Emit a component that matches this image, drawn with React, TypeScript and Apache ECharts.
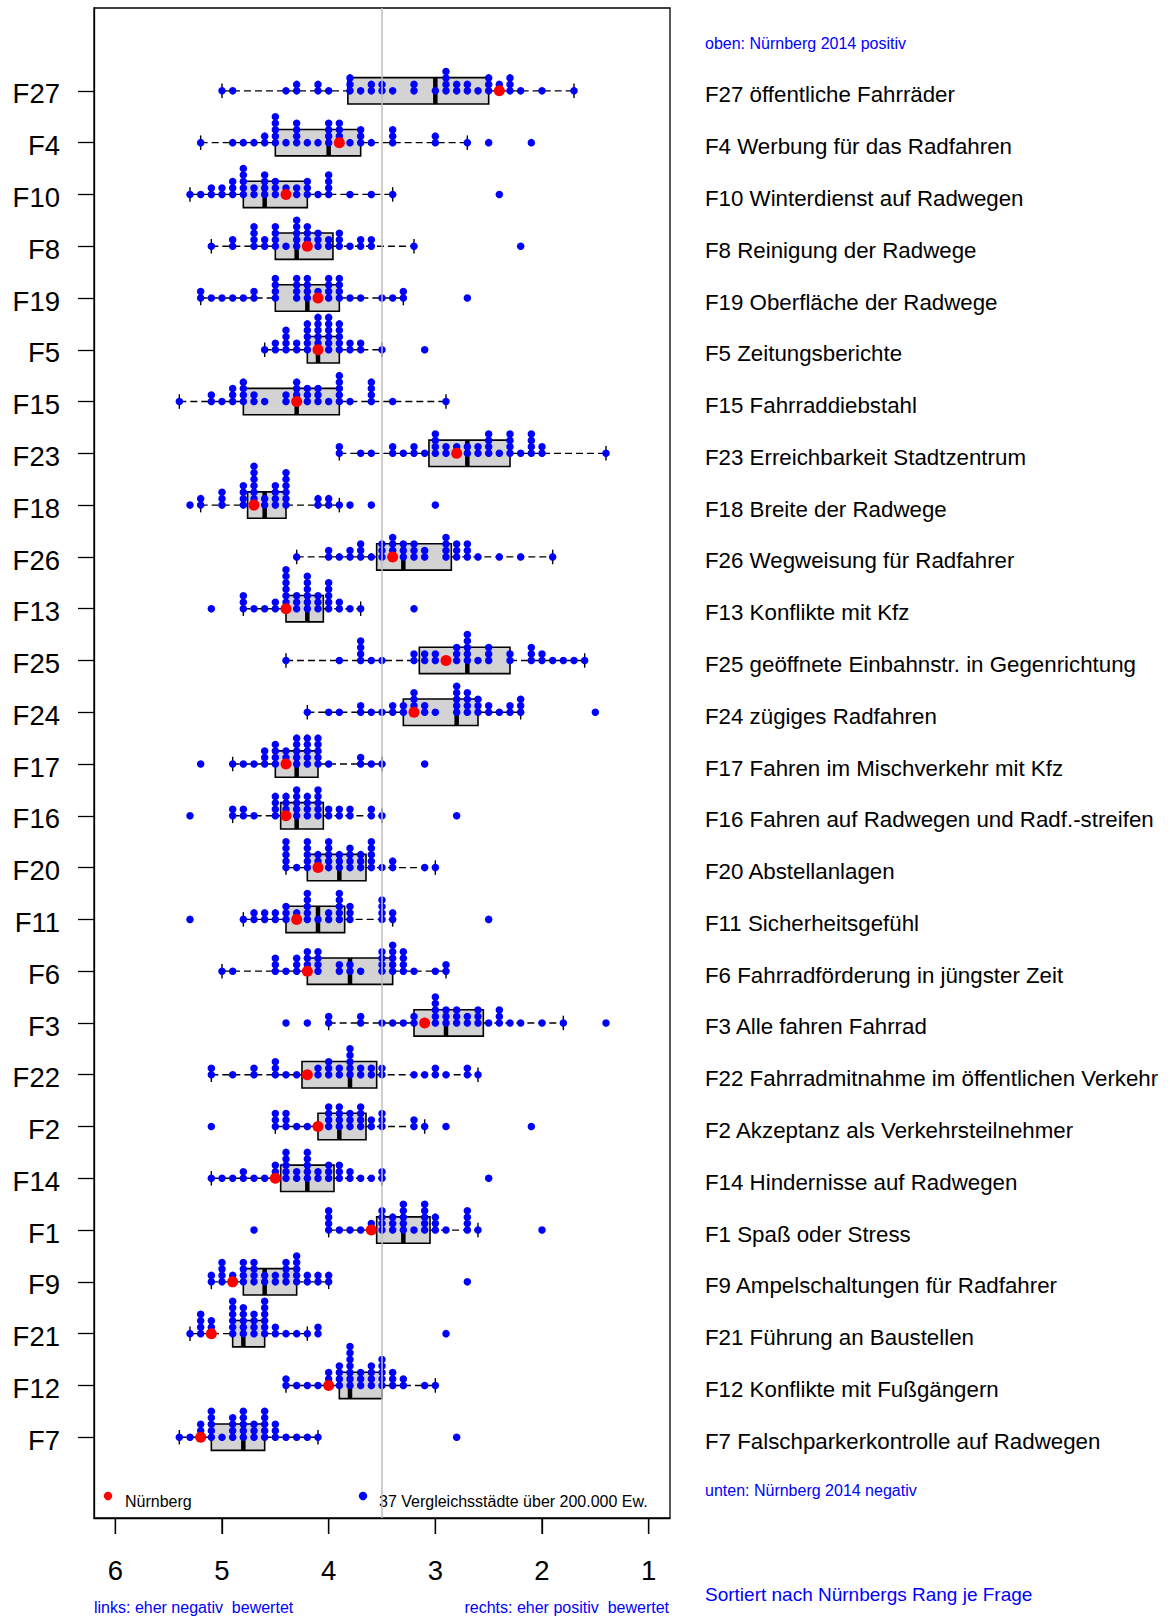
import React, { useEffect, useRef } from "react";
import * as echarts from "echarts";

// Questions, top to bottom (sorted by Nürnberg's rank)
const questions = ["F27","F4","F10","F8","F19","F5","F15","F23","F18","F26","F13","F25","F24","F17","F16","F20","F11","F6","F3","F22","F2","F14","F1","F9","F21","F12","F7"];
const questionTexts = [
  "F27 öffentliche Fahrräder",
  "F4 Werbung für das Radfahren",
  "F10 Winterdienst auf Radwegen",
  "F8 Reinigung der Radwege",
  "F19 Oberfläche der Radwege",
  "F5 Zeitungsberichte",
  "F15 Fahrraddiebstahl",
  "F23 Erreichbarkeit Stadtzentrum",
  "F18 Breite der Radwege",
  "F26 Wegweisung für Radfahrer",
  "F13 Konflikte mit Kfz",
  "F25 geöffnete Einbahnstr. in Gegenrichtung",
  "F24 zügiges Radfahren",
  "F17 Fahren im Mischverkehr mit Kfz",
  "F16 Fahren auf Radwegen und Radf.-streifen",
  "F20 Abstellanlagen",
  "F11 Sicherheitsgefühl",
  "F6 Fahrradförderung in jüngster Zeit",
  "F3 Alle fahren Fahrrad",
  "F22 Fahrradmitnahme im öffentlichen Verkehr",
  "F2 Akzeptanz als Verkehrsteilnehmer",
  "F14 Hindernisse auf Radwegen",
  "F1 Spaß oder Stress",
  "F9 Ampelschaltungen für Radfahrer",
  "F21 Führung an Baustellen",
  "F12 Konflikte mit Fußgängern",
  "F7 Falschparkerkontrolle auf Radwegen",
];

// Nürnberg 2014 grade per question
const nuernberg = [2.4,3.9,4.4,4.2,4.1,4.1,4.3,2.8,4.7,3.4,4.4,2.9,3.2,4.4,4.4,4.1,4.3,4.2,3.1,4.2,4.1,4.5,3.6,4.9,5.1,4.0,5.2];

// Box statistics: [upper whisker, upper hinge, median, lower hinge, lower whisker]
const boxStats = [
  [5.0,3.82,3.0,2.5,1.7],
  [5.2,4.5,4.0,3.7,2.7],
  [5.3,4.8,4.6,4.2,3.4],
  [5.1,4.5,4.3,3.96,3.2],
  [5.2,4.5,4.2,3.9,3.3],
  [4.6,4.2,4.1,3.9,3.5],
  [5.4,4.8,4.3,3.9,2.9],
  [3.9,3.06,2.7,2.3,1.4],
  [5.2,4.76,4.6,4.4,3.9],
  [4.3,3.55,3.3,2.85,1.9],
  [4.8,4.4,4.2,4.05,3.7],
  [4.4,3.15,2.7,2.3,1.6],
  [4.2,3.3,2.8,2.6,2.2],
  [4.9,4.5,4.3,4.1,3.5],
  [4.9,4.45,4.3,4.05,3.5],
  [4.4,4.2,3.9,3.65,3.0],
  [4.8,4.4,4.1,3.85,3.4],
  [5.0,4.2,3.8,3.4,2.9],
  [4.0,3.2,2.9,2.55,1.8],
  [5.1,4.25,3.8,3.55,2.6],
  [4.5,4.1,3.9,3.65,3.1],
  [5.1,4.45,4.2,3.95,3.5],
  [4.0,3.55,3.3,3.05,2.6],
  [5.1,4.8,4.6,4.3,4.0],
  [5.3,4.9,4.8,4.6,4.2],
  [4.4,3.9,3.8,3.5,3.0],
  [5.4,5.1,4.8,4.6,4.1],
];

// Grades of the 37 comparison cities per question
const vF27 = [5.0,4.9,4.4,4.3,4.3,4.1,4.1,4.0,3.8,3.8,3.8,3.7,3.6,3.6,3.5,3.5,3.4,3.2,3.2,3.0,2.9,2.9,2.9,2.9,2.8,2.8,2.7,2.7,2.6,2.5,2.5,2.5,2.4,2.4,2.3,2.3,2.3,2.2,2.0,1.7];
const vF4 = [5.2,4.9,4.8,4.7,4.6,4.6,4.5,4.5,4.5,4.5,4.5,4.4,4.3,4.3,4.3,4.3,4.2,4.1,4.0,4.0,4.0,4.0,3.9,3.9,3.9,3.9,3.8,3.7,3.7,3.7,3.6,3.4,3.4,3.4,3.0,3.0,2.7,2.5,2.1];
const vF10 = [5.3,5.2,5.1,5.1,5.0,5.0,4.9,4.9,4.9,4.8,4.8,4.8,4.8,4.8,4.7,4.7,4.6,4.6,4.6,4.6,4.5,4.5,4.5,4.4,4.4,4.3,4.3,4.2,4.2,4.2,4.1,4.0,4.0,4.0,4.0,3.8,3.6,3.4,2.4];
const vF8 = [5.1,4.9,4.9,4.7,4.7,4.7,4.7,4.6,4.6,4.5,4.5,4.5,4.5,4.4,4.3,4.3,4.3,4.3,4.3,4.2,4.2,4.2,4.2,4.1,4.1,4.1,4.0,4.0,3.9,3.9,3.9,3.8,3.7,3.7,3.6,3.6,3.2,2.2];
const vF19 = [5.2,5.2,5.1,5.0,4.9,4.8,4.7,4.7,4.5,4.5,4.5,4.5,4.3,4.3,4.3,4.3,4.2,4.2,4.2,4.2,4.1,4.1,4.0,4.0,4.0,4.0,3.9,3.9,3.9,3.9,3.8,3.7,3.5,3.4,3.3,3.3,2.7];
const vF5 = [4.6,4.5,4.5,4.4,4.4,4.4,4.4,4.3,4.3,4.2,4.2,4.2,4.2,4.2,4.1,4.1,4.1,4.1,4.1,4.1,4.0,4.0,4.0,4.0,4.0,4.0,3.9,3.9,3.9,3.9,3.9,3.8,3.8,3.7,3.7,3.5,3.1];
const vF15 = [5.4,5.1,5.1,5.0,4.9,4.9,4.9,4.8,4.8,4.8,4.8,4.7,4.7,4.6,4.4,4.4,4.3,4.3,4.3,4.3,4.2,4.2,4.2,4.1,4.1,4.1,4.0,3.9,3.9,3.9,3.9,3.9,3.8,3.6,3.6,3.6,3.6,3.4,2.9];
const vF23 = [3.9,3.9,3.7,3.6,3.4,3.4,3.3,3.2,3.2,3.1,3.0,3.0,3.0,3.0,2.9,2.9,2.8,2.8,2.7,2.7,2.6,2.6,2.5,2.5,2.5,2.5,2.4,2.3,2.3,2.3,2.3,2.2,2.1,2.1,2.1,2.1,2.0,2.0,1.4];
const vF18 = [5.3,5.2,5.2,5.0,5.0,5.0,4.8,4.8,4.8,4.8,4.7,4.7,4.7,4.7,4.7,4.7,4.7,4.6,4.6,4.5,4.5,4.5,4.5,4.4,4.4,4.4,4.4,4.4,4.4,4.1,4.1,4.0,4.0,3.9,3.8,3.6,3.0];
const vF26 = [4.3,4.0,4.0,3.9,3.8,3.8,3.7,3.7,3.7,3.6,3.5,3.5,3.5,3.4,3.4,3.4,3.4,3.3,3.3,3.3,3.2,3.2,3.2,3.1,3.1,2.9,2.9,2.9,2.9,2.8,2.8,2.8,2.7,2.7,2.7,2.6,2.4,2.2,1.9];
const vF13 = [5.1,4.8,4.8,4.8,4.7,4.6,4.5,4.5,4.4,4.4,4.4,4.4,4.4,4.4,4.4,4.3,4.3,4.3,4.2,4.2,4.2,4.2,4.2,4.2,4.1,4.1,4.1,4.0,4.0,4.0,4.0,4.0,3.9,3.9,3.8,3.7,3.2];
const vF25 = [4.4,3.9,3.7,3.7,3.7,3.7,3.6,3.5,3.2,3.2,3.1,3.1,3.0,3.0,2.9,2.8,2.8,2.8,2.7,2.7,2.7,2.7,2.7,2.6,2.5,2.5,2.5,2.3,2.3,2.1,2.1,2.1,2.0,2.0,1.9,1.8,1.7,1.6];
const vF24 = [4.2,4.0,3.9,3.7,3.7,3.6,3.5,3.4,3.4,3.3,3.3,3.2,3.2,3.2,3.2,3.1,3.1,3.0,2.8,2.8,2.8,2.8,2.8,2.7,2.7,2.7,2.7,2.6,2.6,2.6,2.5,2.5,2.4,2.3,2.3,2.2,2.2,2.2,1.5];
const vF17 = [5.2,4.9,4.8,4.7,4.6,4.6,4.6,4.5,4.5,4.5,4.5,4.4,4.4,4.4,4.3,4.3,4.3,4.3,4.3,4.2,4.2,4.2,4.2,4.2,4.1,4.1,4.1,4.1,4.1,4.0,3.7,3.7,3.6,3.5,3.1];
const vF16 = [5.3,4.9,4.9,4.8,4.8,4.7,4.5,4.5,4.5,4.5,4.4,4.4,4.4,4.4,4.3,4.3,4.3,4.3,4.3,4.2,4.2,4.2,4.2,4.1,4.1,4.1,4.1,4.1,4.0,4.0,3.9,3.9,3.8,3.8,3.6,3.6,3.5,2.8];
const vF20 = [4.4,4.4,4.4,4.4,4.4,4.3,4.2,4.2,4.2,4.2,4.2,4.1,4.1,4.1,4.0,4.0,4.0,4.0,4.0,3.9,3.9,3.9,3.8,3.8,3.8,3.8,3.7,3.7,3.7,3.6,3.6,3.6,3.6,3.6,3.5,3.4,3.4,3.1,3.0];
const vF11 = [5.3,4.8,4.7,4.7,4.6,4.6,4.5,4.5,4.4,4.4,4.4,4.3,4.3,4.2,4.2,4.2,4.2,4.2,4.1,4.0,4.0,3.9,3.9,3.9,3.9,3.9,3.8,3.8,3.8,3.5,3.5,3.5,3.5,3.4,3.4,2.5];
const vF6 = [5.0,4.9,4.5,4.5,4.5,4.4,4.3,4.3,4.3,4.2,4.2,4.2,4.2,4.1,4.1,4.1,4.1,3.9,3.9,3.8,3.8,3.7,3.5,3.5,3.5,3.5,3.4,3.4,3.4,3.4,3.4,3.3,3.3,3.3,3.3,3.2,3.0,2.9,2.9];
const vF3 = [4.4,4.2,4.0,4.0,3.7,3.7,3.5,3.4,3.3,3.2,3.2,3.1,3.0,3.0,3.0,3.0,3.0,2.9,2.9,2.9,2.8,2.8,2.8,2.7,2.7,2.6,2.6,2.6,2.5,2.4,2.4,2.4,2.3,2.2,2.0,1.8,1.4];
const vF22 = [5.1,5.1,4.9,4.7,4.7,4.5,4.5,4.5,4.4,4.3,4.2,4.1,4.1,4.0,4.0,4.0,3.9,3.9,3.8,3.8,3.8,3.8,3.8,3.7,3.7,3.6,3.6,3.5,3.5,3.2,3.1,3.0,3.0,2.9,2.7,2.7,2.6];
const vF2 = [5.1,4.5,4.5,4.5,4.4,4.4,4.4,4.3,4.2,4.1,4.0,4.0,4.0,4.0,3.9,3.9,3.9,3.9,3.8,3.8,3.8,3.7,3.7,3.7,3.7,3.6,3.6,3.5,3.5,3.5,3.2,3.2,3.1,2.9,2.1];
const vF14 = [5.1,5.0,4.9,4.8,4.8,4.7,4.6,4.5,4.5,4.5,4.4,4.4,4.4,4.4,4.4,4.3,4.3,4.2,4.2,4.2,4.2,4.2,4.1,4.1,4.0,4.0,4.0,3.9,3.9,3.9,3.8,3.8,3.7,3.6,3.5,3.5,2.5];
const vF1 = [4.7,4.0,4.0,4.0,4.0,3.9,3.8,3.7,3.6,3.6,3.5,3.5,3.5,3.5,3.4,3.4,3.4,3.3,3.3,3.3,3.3,3.3,3.2,3.1,3.1,3.1,3.1,3.1,3.0,3.0,3.0,2.9,2.7,2.7,2.7,2.7,2.6,2.0];
const vF9 = [5.1,5.1,5.0,5.0,5.0,5.0,4.9,4.9,4.8,4.8,4.8,4.8,4.7,4.7,4.7,4.7,4.6,4.6,4.5,4.5,4.4,4.4,4.4,4.4,4.3,4.3,4.3,4.3,4.3,4.2,4.2,4.1,4.1,4.0,4.0,2.7];
const vF21 = [5.3,5.2,5.2,5.2,5.2,5.1,5.1,5.1,4.9,4.9,4.9,4.9,4.9,4.9,4.8,4.8,4.8,4.8,4.8,4.7,4.7,4.7,4.7,4.6,4.6,4.6,4.6,4.6,4.6,4.5,4.5,4.4,4.3,4.2,4.1,4.1,2.9];
const vF12 = [4.4,4.4,4.3,4.2,4.1,4.0,4.0,4.0,3.9,3.9,3.9,3.9,3.8,3.8,3.8,3.8,3.8,3.8,3.8,3.7,3.7,3.7,3.6,3.6,3.6,3.6,3.5,3.5,3.5,3.5,3.5,3.4,3.4,3.4,3.3,3.3,3.1,3.0];
const vF7 = [5.4,5.3,5.2,5.2,5.2,5.1,5.1,5.1,5.1,5.1,5.0,4.9,4.9,4.9,4.9,4.8,4.8,4.8,4.8,4.8,4.7,4.7,4.7,4.6,4.6,4.6,4.6,4.6,4.5,4.5,4.5,4.4,4.3,4.2,4.1,2.8];

const cityValues = [vF27,vF4,vF10,vF8,vF19,vF5,vF15,vF23,vF18,vF26,vF13,vF25,vF24,vF17,vF16,vF20,vF11,vF6,vF3,vF22,vF2,vF14,vF1,vF9,vF21,vF12,vF7];

const xTicks = [1, 2, 3, 4, 5, 6];
const refValue = 3.5;

const FONT = "Liberation Sans, Arial, Helvetica, sans-serif";
const BLUE = "#0000FF";
const RED = "#FF0000";
const STACK = 0.125; // vertical offset between stacked equal values (row units)
const LEFT_LABEL_SHIFT = 0.06; // R draws the row names slightly below the tick
const RIGHT_LABEL_SHIFT = 0.078;
const ROW_OFFSET = 0.56; // space below the last row (legend area)
const Y_MIN = 0;
const Y_MAX = 29.16;
const GRID = { left: 94, top: 8, width: 576, height: 1510 };

export default function App() {
  const ref = useRef<HTMLDivElement>(null);

  useEffect(() => {
    if (!ref.current) return;
    const chart = echarts.init(ref.current, null, { renderer: "svg" });
    const n = questions.length;
    const rowPos = (i: number) => n - i + ROW_OFFSET;
    const rowIndex = (v: number) => n - Math.round(v - ROW_OFFSET);

    const blueData: number[][] = [];
    cityValues.forEach((vals, i) => {
      const counts: Record<string, number> = {};
      vals.forEach((v) => {
        const key = v.toFixed(2);
        const k = counts[key] || 0;
        counts[key] = k + 1;
        blueData.push([v, rowPos(i) + k * STACK]);
      });
    });
    const redData = nuernberg.map((v, i) => [v, rowPos(i)]);
    const boxData = boxStats.map((b, i) => [rowPos(i), ...b]);
    const rowTicks = questions.map((_, i) => rowPos(i));
    const leftLabelPos = rowTicks.map((p) => p - LEFT_LABEL_SHIFT);
    const rightLabelPos = rowTicks.map((p) => p - RIGHT_LABEL_SHIFT);

    const textStyle = (text: string, size: number, fill: string, align = "left") => ({
      text, fontSize: size, fill, fontFamily: FONT, verticalAlign: "middle", align,
    });
    const staticGraphics: any[] = [
      { id: "legRed", type: "circle", shape: { cx: 108, cy: 1496, r: 4.2 }, style: { fill: RED } },
      { id: "legRedT", type: "text", x: 125, y: 1501, style: textStyle("Nürnberg", 16, "#000") },
      { id: "legBlue", type: "circle", shape: { cx: 363, cy: 1496, r: 4.2 }, style: { fill: BLUE } },
      { id: "legBlueT", type: "text", x: 379, y: 1501, style: textStyle("37 Vergleichsstädte über 200.000 Ew.", 16, "#000") },
      { id: "oben", type: "text", x: 705, y: 43, style: textStyle("oben: Nürnberg 2014 positiv", 16, BLUE) },
      { id: "unten", type: "text", x: 705, y: 1490, style: textStyle("unten: Nürnberg 2014 negativ", 16, BLUE) },
      { id: "sort", type: "text", x: 705, y: 1594, style: textStyle("Sortiert nach Nürnbergs Rang je Frage", 19, BLUE) },
      { id: "links", type: "text", x: 94, y: 1607, style: textStyle("links: eher negativ  bewertet", 16, BLUE) },
      { id: "rechts", type: "text", x: 669, y: 1607, style: textStyle("rechts: eher positiv  bewertet", 16, BLUE, "right") },
    ];

    const option: any = {
      animation: false,
      textStyle: { fontFamily: FONT },
      grid: {
        ...GRID,
        show: true,
        borderColor: "#000",
        borderWidth: 1.3,
        backgroundColor: "transparent",
      },
      xAxis: {
        type: "value",
        min: 0.8,
        max: 6.2,
        inverse: true,
        position: "bottom",
        splitLine: { show: false },
        axisLine: { show: true, lineStyle: { color: "#000", width: 1.3 } },
        axisTick: { show: true, inside: false, customValues: xTicks, length: 16, lineStyle: { color: "#000", width: 1.3 } },
        axisLabel: {
          customValues: xTicks,
          fontSize: 27.5,
          color: "#000",
          margin: 38,
          fontFamily: FONT,
        },
      },
      yAxis: [
        {
          type: "value",
          min: Y_MIN,
          max: Y_MAX,
          splitLine: { show: false },
          axisLine: { show: true, onZero: false, lineStyle: { color: "#000", width: 1.3 } },
          axisTick: { show: true, customValues: rowTicks, length: 16, lineStyle: { color: "#000", width: 1.3 } },
          axisLabel: {
            customValues: leftLabelPos,
            fontSize: 27.5,
            color: "#000",
            margin: 34,
            fontFamily: FONT,
            formatter: (v: number) => questions[rowIndex(v)] || "",
          },
        },
        {
          type: "value",
          position: "right",
          min: Y_MIN,
          max: Y_MAX,
          splitLine: { show: false },
          axisLine: { show: false, onZero: false },
          axisTick: { show: false },
          axisLabel: {
            customValues: rightLabelPos,
            fontSize: 22.3,
            color: "#000",
            margin: 35,
            fontFamily: FONT,
            formatter: (v: number) => questionTexts[rowIndex(v)] || "",
          },
        },
      ],
      series: [
        {
          type: "custom",
          z: 2,
          silent: true,
          encode: { x: [1, 2, 3, 4, 5], y: 0 },
          data: boxData,
          renderItem: (params: any, api: any) => {
            const y = api.value(0);
            const pWH = api.coord([api.value(1), y]);
            const pQH = api.coord([api.value(2), y]);
            const pMD = api.coord([api.value(3), y]);
            const pQL = api.coord([api.value(4), y]);
            const pWL = api.coord([api.value(5), y]);
            const half = api.size([0, 0.255])[1];
            const st = api.size([0, 0.14])[1];
            const yc = pMD[1];
            const dash = { stroke: "#000", lineWidth: 1.4, lineDash: [7, 4] };
            const solid = { stroke: "#000", lineWidth: 1.4 };
            return {
              type: "group",
              children: [
                { type: "line", shape: { x1: pWH[0], y1: yc, x2: pQH[0], y2: yc }, style: dash },
                { type: "line", shape: { x1: pQL[0], y1: yc, x2: pWL[0], y2: yc }, style: dash },
                { type: "line", shape: { x1: pWH[0], y1: yc - st, x2: pWH[0], y2: yc + st }, style: solid },
                { type: "line", shape: { x1: pWL[0], y1: yc - st, x2: pWL[0], y2: yc + st }, style: solid },
                {
                  type: "rect",
                  shape: { x: pQH[0], y: yc - half, width: pQL[0] - pQH[0], height: 2 * half },
                  style: { fill: "#D3D3D3", stroke: "#000", lineWidth: 1.6 },
                },
                { type: "line", shape: { x1: pMD[0], y1: yc - half, x2: pMD[0], y2: yc + half }, style: { stroke: "#000", lineWidth: 4.5 } },
              ],
            };
          },
        },
        {
          type: "scatter",
          z: 3,
          silent: true,
          symbol: "circle",
          symbolSize: 7.5,
          itemStyle: { color: BLUE, opacity: 1 },
          data: blueData,
        },
        {
          type: "scatter",
          z: 4,
          silent: true,
          symbol: "circle",
          symbolSize: 11,
          itemStyle: { color: RED, opacity: 1 },
          data: redData,
          markLine: {
            silent: true,
            symbol: ["none", "none"],
            label: { show: false },
            lineStyle: { color: "#BEBEBE", width: 1.5, type: "solid" },
            data: [{ xAxis: refValue }],
          },
        },
      ],
      graphic: staticGraphics,
    };
    chart.setOption(option);

    // bottom axis tick marks, positioned through the x scale (fallback)
    const tickLines: any[] = [];
    xTicks.forEach((v, i) => {
      const px = chart.convertToPixel({ gridIndex: 0 }, [v, Y_MIN]) as any;
      if (Array.isArray(px) && isFinite(px[0]) && isFinite(px[1])) {
        tickLines.push({
          id: "xtick" + i,
          type: "line",
          z: 100,
          shape: { x1: px[0], y1: px[1], x2: px[0], y2: px[1] + 16 },
          style: { stroke: "#000", lineWidth: 1.3 },
        });
      }
    });
    chart.setOption({ graphic: [...staticGraphics, ...tickLines] });

    return () => chart.dispose();
  }, []);

  return (
    <div
      ref={ref}
      style={{ position: "absolute", left: 0, top: 0, width: 1175, height: 1619, background: "#fff" }}
    />
  );
}
